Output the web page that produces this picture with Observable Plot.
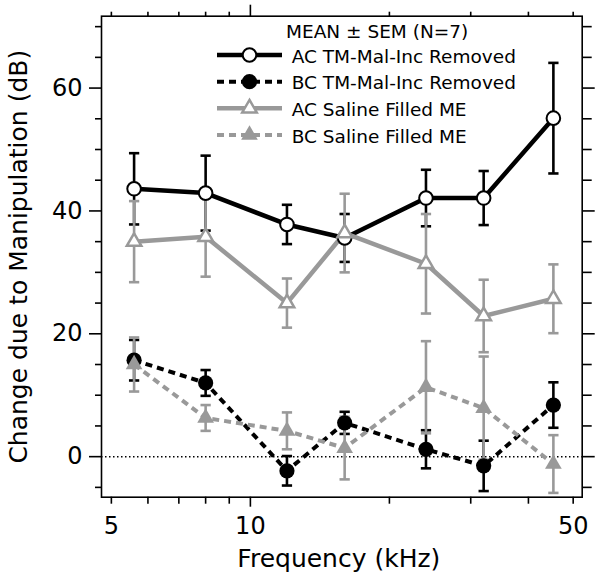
<!DOCTYPE html>
<html><head><meta charset="utf-8">
<script src="https://cdn.jsdelivr.net/npm/d3@7"></script>
<script src="https://cdn.jsdelivr.net/npm/@observablehq/plot@0.6"></script>
<style>body{margin:0;background:#fff;}</style>
</head><body><div id="chart"></div>
<script>
// ---- data ----
const frequencies = [5.6, 8, 12, 16, 24, 32, 45.3];
const seriesNames = ["AC TM-Mal-Inc Removed", "BC TM-Mal-Inc Removed", "AC Saline Filled ME", "BC Saline Filled ME"];
const acTmMean = [43.6, 42.9, 37.8, 35.6, 42.1, 42.1, 55.1];
const acTmSem  = [5.8, 6.1, 3.2, 3.9, 4.6, 4.4, 9.0];
const bcTmMean = [15.7, 12.0, -2.3, 5.5, 1.2, -1.5, 8.4];
const bcTmSem  = [3.3, 2.1, 2.4, 1.8, 3.1, 4.1, 3.7];
const acSalMean = [35.0, 35.8, 25.0, 36.4, 31.4, 22.9, 25.7];
const acSalSem  = [6.6, 6.5, 4.0, 6.4, 8.1, 5.9, 5.6];
const bcSalMean = [15.0, 6.3, 4.2, 1.4, 11.3, 7.9, -1.2];
const bcSalSem  = [4.4, 2.1, 3.0, 5.1, 7.5, 8.4, 4.7];
const xTickLabels = [5, 10, 50];
const xMinorTicks = [6, 7, 8, 9, 20, 30, 40];
const yTickLabels = [0, 20, 40, 60];
const yMinorTicks = [-5, 5, 10, 15, 25, 30, 35, 45, 50, 55, 65, 70];
const legendTitle = "MEAN ± SEM (N=7)";
const xTitle = "Frequency (kHz)";
const yTitle = "Change due to Manipulation (dB)";

// ---- styles ----
const font = "DejaVu Sans";
const styles = [
  {stroke: "#000", dash: null,  symbol: "circle",   fill: "#fff", r: 6.8, sw: 2,   lw: 4.5},
  {stroke: "#000", dash: "7,5", symbol: "circle",   fill: "#000", r: 7.6, sw: 0,   lw: 4},
  {stroke: "#999", dash: null,  symbol: "triangle", fill: "#fff", r: 5.4, sw: 2.5, lw: 4.5},
  {stroke: "#999", dash: "7,5", symbol: "triangle", fill: "#999", r: 6.2, sw: 0,   lw: 4}
];
const means = [acTmMean, bcTmMean, acSalMean, bcSalMean];
const sems = [acTmSem, bcTmSem, acSalSem, bcSalSem];
const tables = means.map((m, k) => frequencies.map((f, i) => ({
  f, y: m[i], lo: m[i] - sems[k][i], hi: m[i] + sems[k][i]
})));

const capSymbol = {draw(ctx, size) { const w = Math.sqrt(size) / 2; ctx.moveTo(-w, 0); ctx.lineTo(w, 0); }};

const errMarks = tables.flatMap((t, k) => [
  Plot.ruleX(t, {x: "f", y1: "lo", y2: "hi", stroke: styles[k].stroke, strokeWidth: 2.6}),
  Plot.dot(t, {x: "f", y: "lo", symbol: capSymbol, r: 5.8, fill: "none", stroke: styles[k].stroke, strokeWidth: 2.6}),
  Plot.dot(t, {x: "f", y: "hi", symbol: capSymbol, r: 5.8, fill: "none", stroke: styles[k].stroke, strokeWidth: 2.6})
]);
const lineMarks = tables.map((t, k) => Plot.line(t, {
  x: "f", y: "y", stroke: styles[k].stroke, strokeWidth: styles[k].lw,
  strokeDasharray: styles[k].dash, strokeLinejoin: "miter", strokeLinecap: "butt"
}));
const dotMarks = tables.map((t, k) => Plot.dot(t, {
  x: "f", y: "y", symbol: styles[k].symbol, r: styles[k].r, fill: styles[k].fill,
  stroke: styles[k].sw ? styles[k].stroke : "none", strokeWidth: styles[k].sw
}));

const chart = Plot.plot({
  width: 600, height: 579,
  marginLeft: 101, marginRight: 18.3, marginTop: 15.7, marginBottom: 82.3,
  style: {fontFamily: font, background: "#fff", color: "#000"},
  x: {type: "log", domain: [4.76, 52.3]},
  y: {domain: [-6.6, 71.7]},
  marks: [
    Plot.ruleY([0], {stroke: "#000", strokeWidth: 1.5, strokeDasharray: "1.5,2.5"}),
    ...errMarks,
    ...lineMarks,
    ...dotMarks,
    Plot.frame({stroke: "#000", strokeWidth: 1.6}),
    // y axes
    Plot.axisY({anchor: "left", ticks: yTickLabels, tickSize: 12, tickPadding: 7, fontSize: 24, label: null, strokeWidth: 1.6}),
    Plot.axisY({anchor: "left", ticks: yMinorTicks, tickSize: 6, tickFormat: () => "", label: null, strokeWidth: 1.6}),
    Plot.axisY({anchor: "right", ticks: yTickLabels, tickSize: 12, tickFormat: () => "", label: null, strokeWidth: 1.6}),
    Plot.axisY({anchor: "right", ticks: yMinorTicks, tickSize: 9, tickFormat: () => "", label: null, strokeWidth: 1.6}),
    // x axes
    Plot.axisX({anchor: "bottom", ticks: [5, 50, ...xMinorTicks], tickSize: 7, tickFormat: () => "", label: null, strokeWidth: 1.6}),
    Plot.axisX({anchor: "bottom", ticks: [10], tickSize: 10, tickFormat: () => "", label: null, strokeWidth: 1.6}),
    Plot.axisX({anchor: "bottom", ticks: xTickLabels, tickSize: 0, tickPadding: 20, fontSize: 24, tickFormat: d => String(d), label: null}),
    Plot.axisX({anchor: "top", ticks: [5, 50, ...xMinorTicks], tickSize: 5, tickFormat: () => "", label: null, strokeWidth: 1.6}),
    Plot.axisX({anchor: "top", ticks: [10], tickSize: 12, tickFormat: () => "", label: null, strokeWidth: 1.6}),
    // titles
    Plot.text([xTitle], {frameAnchor: "bottom", textAnchor: "middle", lineAnchor: "middle", dy: 61.3, dx: -3, fontSize: 25, fill: "#000"}),
    Plot.text([yTitle], {frameAnchor: "left", textAnchor: "middle", lineAnchor: "middle", rotate: -90, dx: -83, fontSize: 25, fill: "#000"})
  ]
});
document.getElementById("chart").append(chart);

// ---- legend (inside the frame, top right) ----
const svg = d3.select(chart);
const lg = svg.append("g").attr("font-family", font).attr("font-size", 18.5).attr("fill", "#000").attr("text-anchor", "start");
lg.append("text").attr("x", 286).attr("y", 38.3).text(legendTitle);
const rowY = [55, 81.7, 108.3, 135];
seriesNames.forEach((name, k) => {
  const s = styles[k], y = rowY[k];
  lg.append("line").attr("x1", 217).attr("x2", 282).attr("y1", y).attr("y2", y)
    .attr("stroke", s.stroke).attr("stroke-width", s.lw).attr("stroke-dasharray", s.dash);
  const sym = s.symbol === "circle" ? d3.symbolCircle : d3.symbolTriangle;
  lg.append("path").attr("transform", `translate(249.5,${y})`)
    .attr("d", d3.symbol(sym, Math.PI * s.r * s.r)())
    .attr("fill", s.fill).attr("stroke", s.sw ? s.stroke : "none").attr("stroke-width", s.sw);
  lg.append("text").attr("x", 291.7).attr("y", y + 7.5).text(name);
});
</script>
</body></html>
